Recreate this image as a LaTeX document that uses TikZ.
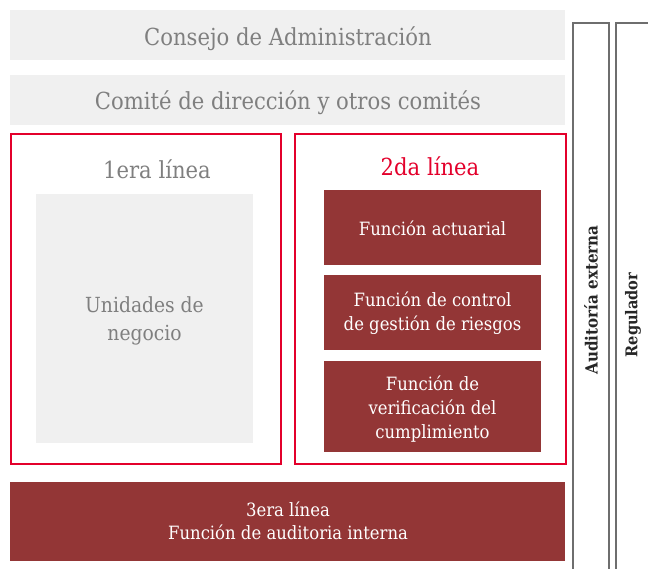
\documentclass[tikz,border=0pt]{standalone}
\usepackage{fontspec}
\setmainfont{DejaVu Serif Condensed}
\definecolor{lgray}{HTML}{F0F0F0}
\definecolor{tgray}{HTML}{7F7F7F}
\definecolor{bred}{HTML}{E3002B}
\definecolor{dred}{HTML}{933636}
\definecolor{bgray}{HTML}{6E6E6E}
\begin{document}
\begin{tikzpicture}[x=1pt,y=-1pt,
  graybar/.style={fill=lgray,draw=none},
  redframe/.style={draw=bred,line width=2pt},
  darkbox/.style={fill=dred,draw=none},
  sideframe/.style={draw=bgray,line width=2pt},
  graytxt/.style={text=tgray,font=\fontsize{23.5}{27}\selectfont,align=center},
  whitetxt/.style={text=white,font=\fontsize{18.3}{24.3}\selectfont,align=center},
  sidetxt/.style={font=\bfseries\fontsize{16.8}{18}\selectfont,text=black!85,rotate=90}]
\useasboundingbox (0,0) rectangle (648,569);
% top bars
\path[graybar] (10,10) rectangle (565,60);
\node[graytxt] (consejo) at (288,38.5) {Consejo de Administración};
\path[graybar] (10,75) rectangle (565,125);
\node[graytxt] (comite) at (288,102.5) {Comité de dirección y otros comités};
% first line
\draw[redframe] (11,134) rectangle (281,464);
\node[graytxt] (l1) at (157,169.5) {1era línea};
\path[graybar] (36,194) rectangle (253,443);
\node[graytxt,font=\fontsize{20.8}{27.5}\selectfont] (unid) at (144.5,321) {Unidades de\\negocio};
% second line
\draw[redframe] (295,134) rectangle (566,464);
\node[graytxt,text=bred] (l2) at (430,166.5) {2da línea};
\path[darkbox] (324,190) rectangle (541,265);
\node[whitetxt] (act) at (432.5,228) {Función actuarial};
\path[darkbox] (324,275) rectangle (541,350);
\node[whitetxt] (ctrl) at (432.5,313) {Función de control\\de gestión de riesgos};
\path[darkbox] (324,361) rectangle (541,452);
\node[whitetxt] (verif) at (432.5,409) {Función de\\verificación del\\cumplimiento};
% third line
\path[darkbox] (10,482) rectangle (565,561);
\node[whitetxt,font=\fontsize{18.3}{23}\selectfont] (l3) at (288,521) {3era línea\\Función de auditoria interna};
% side columns
\draw[sideframe] (573,573) -- (573,23) -- (609,23) -- (609,573);
\node[sidetxt] (aud) at (591,300) {Auditoría externa};
\draw[sideframe] (616,573) -- (616,23) -- (652,23);
\node[sidetxt,font=\bfseries\fontsize{16.2}{18}\selectfont] (reg) at (633,315) {Regulador};
\end{tikzpicture}
\end{document}
